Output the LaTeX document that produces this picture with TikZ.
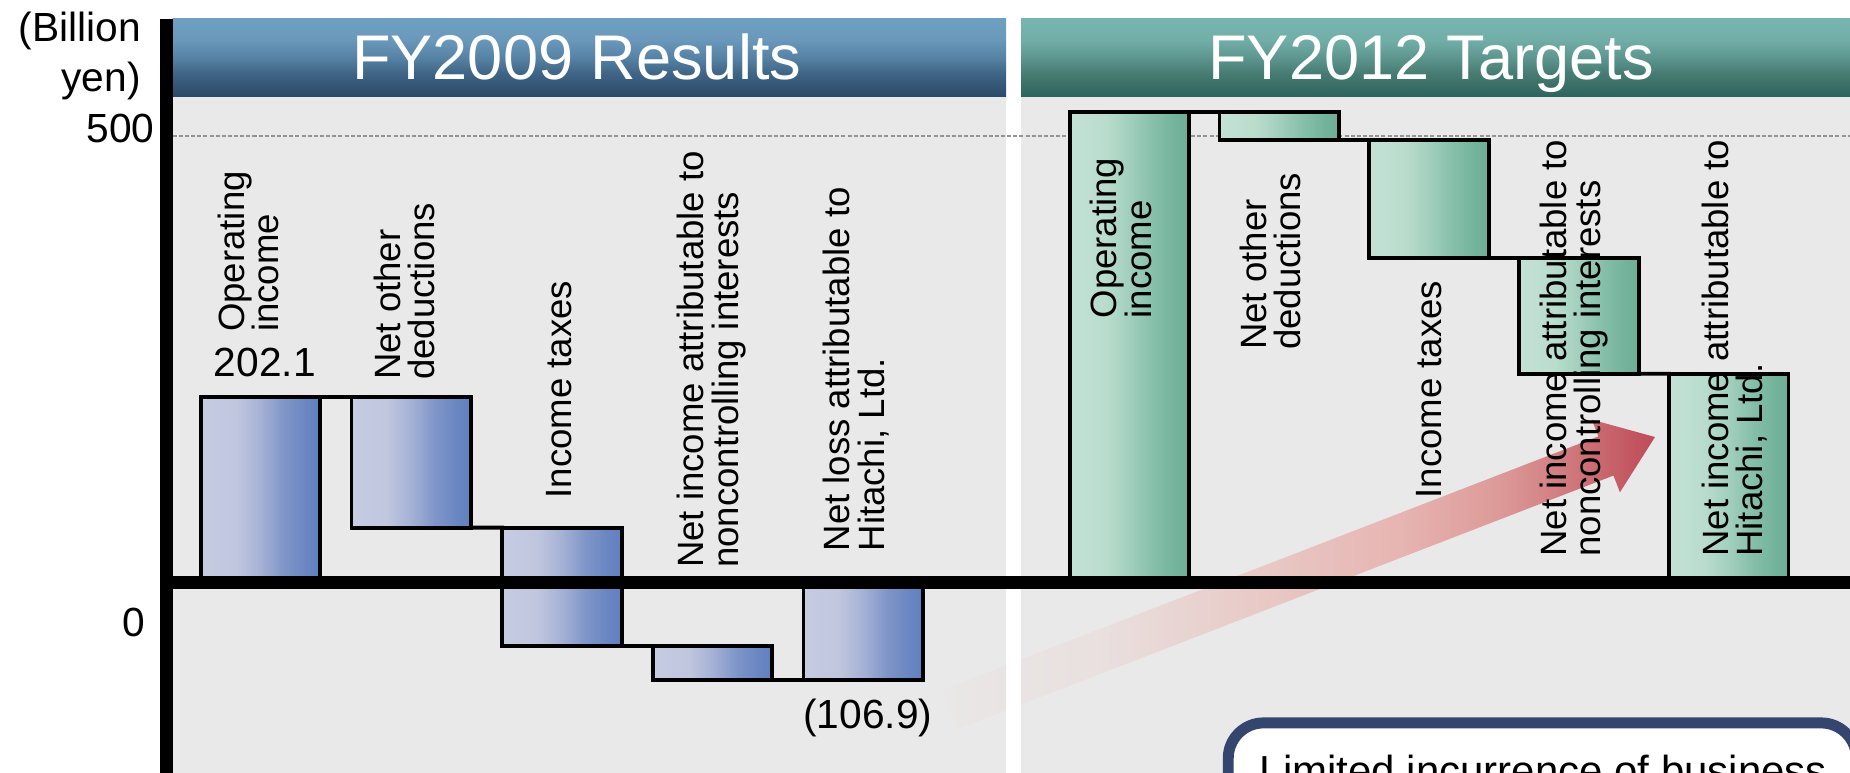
\documentclass[tikz,border=0pt]{standalone}
\usepackage{fontspec}
\setmainfont{Liberation Sans}
\usetikzlibrary{calc}

% panel and frame colours
\definecolor{panelgray}{HTML}{E9E9E9}
\definecolor{gridgray}{HTML}{959595}
\definecolor{notenavy}{HTML}{34466E}
% header gradients
\definecolor{hbT}{HTML}{6FA0C1}
\definecolor{hbM0}{HTML}{6A98BA}
\definecolor{hbM1}{HTML}{5784A6}
\definecolor{hbM2}{HTML}{3F6485}
\definecolor{hbB}{HTML}{2B4969}
\definecolor{hgT}{HTML}{79B5B0}
\definecolor{hgM0}{HTML}{72AEA8}
\definecolor{hgM1}{HTML}{5E9790}
\definecolor{hgM2}{HTML}{467B72}
\definecolor{hgB}{HTML}{2E645E}
% bar gradients
\definecolor{bbA}{HTML}{C6CCE1}
\definecolor{bbB}{HTML}{BFC6DE}
\definecolor{bbC}{HTML}{A5B1D5}
\definecolor{bbD}{HTML}{7E95C8}
\definecolor{bbE}{HTML}{6A86C2}
\definecolor{bbF}{HTML}{6080C0}
\definecolor{gbA}{HTML}{C3E2D5}
\definecolor{gbB}{HTML}{B9DCCD}
\definecolor{gbC}{HTML}{A2CFBD}
\definecolor{gbD}{HTML}{86BFA9}
\definecolor{gbE}{HTML}{74B39B}
\definecolor{gbF}{HTML}{6CAE95}
% growth arrow gradient
\definecolor{arA}{HTML}{E9E7E7}
\definecolor{arB}{HTML}{E9E0DF}
\definecolor{arC}{HTML}{E8D2CF}
\definecolor{arD}{HTML}{E7B5B2}
\definecolor{arE}{HTML}{DC9A98}
\definecolor{arF}{HTML}{D07A7E}
\definecolor{arG}{HTML}{C25560}
\definecolor{arH}{HTML}{BE4E59}

\pgfdeclareverticalshading{hdrblue}{100bp}{color(0bp)=(hbB); color(25bp)=(hbB); color(39.5bp)=(hbM2); color(50.5bp)=(hbM1); color(61.5bp)=(hbM0); color(75bp)=(hbT); color(100bp)=(hbT)}
\pgfdeclareverticalshading{hdrgreen}{100bp}{color(0bp)=(hgB); color(25bp)=(hgB); color(39.5bp)=(hgM2); color(50.5bp)=(hgM1); color(61.5bp)=(hgM0); color(75bp)=(hgT); color(100bp)=(hgT)}
\pgfdeclarehorizontalshading{bluebar}{100bp}{color(0bp)=(bbA); color(25bp)=(bbA); color(40bp)=(bbB); color(50bp)=(bbC); color(60bp)=(bbD); color(69bp)=(bbE); color(75bp)=(bbF); color(100bp)=(bbF)}
\pgfdeclarehorizontalshading{greenbar}{100bp}{color(0bp)=(gbA); color(25bp)=(gbA); color(40bp)=(gbB); color(50bp)=(gbC); color(60bp)=(gbD); color(69bp)=(gbE); color(75bp)=(gbF); color(100bp)=(gbF)}
\pgfdeclarehorizontalshading{redarrow}{100bp}{color(0bp)=(arA); color(25bp)=(arA); color(36bp)=(arB); color(43bp)=(arC); color(57bp)=(arD); color(64bp)=(arE); color(68.85bp)=(arF); color(73.5bp)=(arG); color(75bp)=(arH); color(100bp)=(arH)}

\newcommand{\lblfont}{\fontsize{31}{29}\selectfont}
\newcommand{\numfont}{\fontsize{34.5}{40}\selectfont}
\newcommand{\hdrfont}{\fontsize{53.5}{60}\selectfont}
\newcommand{\notefont}{\fontsize{35.6}{42}\selectfont}

\begin{document}
\begin{tikzpicture}[x=1pt,y=-1pt,
  hdrbox/.style={rectangle, inner sep=0pt, outer sep=0pt, anchor=north west, shade, minimum height=65.3pt},
  panel/.style={fill=panelgray},
  wbar/.style={rectangle, draw=black, line width=3.2pt, shade, inner sep=0pt, outer sep=0pt,
    minimum width=101.3pt, anchor=north west},
  barA/.style={wbar, shading=bluebar},
  barB/.style={wbar, shading=greenbar},
  link/.style={draw=black, line width=3.2pt, line cap=rect},
  axisline/.style={draw=black, line width=11pt},
  lbl/.style={rotate=90, anchor=north west, inner sep=0pt, align=left, font=\lblfont},
  num/.style={inner sep=0pt, font=\numfont},
  title/.style={inner sep=0pt, anchor=base, text=white, font=\hdrfont}]

\useasboundingbox (0,0) rectangle (1568,655);
\clip (0,0) rectangle (1568,655);
\fill[white] (0,0) rectangle (1568,655);

% plot panels
\fill[panel] (146.4,81.4) rectangle (852.7,660);
\fill[panel] (865.5,81.4) rectangle (1570,660);

% section headers
\node[hdrbox, shading=hdrblue, minimum width=706.3pt] (hdrA) at (146.4,16.1) {};
\node[hdrbox, shading=hdrgreen, minimum width=704.5pt] (hdrB) at (865.5,16.1) {};
\node[title] (ttlA) at (488.8,67.8) {FY2009 Results};
\node[title] (ttlB) at (1213,67.8) {FY2012 Targets};

% 500 gridline
\draw[gridgray, line width=1.4pt, dash pattern=on 3.4pt off 1.8pt] (146.4,115.3) -- (1570,115.3);

% growth arrow from the FY2009 loss towards the FY2012 target
\coordinate (arrTail) at (805.2,601.3);
\coordinate (arrTip) at (1402.7,370.4);
\coordinate (arrBase) at ($(arrTip)!44.6pt!(arrTail)$);
\begin{scope}
  \clip (146.4,81.4) rectangle (852.7,660) (865.5,81.4) rectangle (1570,660);
  \shade[shading=redarrow]
    ($(arrTail)!17.8pt!90:(arrTip)$) --
    ($(arrBase)!17.8pt!90:(arrTip)$) --
    ($(arrBase)!33pt!90:(arrTip)$) --
    (arrTip) --
    ($(arrBase)!33pt!-90:(arrTip)$) --
    ($(arrBase)!17.8pt!-90:(arrTip)$) --
    ($(arrTail)!17.8pt!-90:(arrTip)$) -- cycle;
\end{scope}

% FY2009 waterfall
\node[barA, minimum height=157.3pt] (bA1) at (170.2,336.4) {};
\node[barA, minimum height=110.8pt] (bA2) at (297.9,336.4) {};
\node[barA, minimum height=100pt]   (bA3) at (425.6,447.2) {};
\node[barA, minimum height=29pt]    (bA4) at (553.3,547.2) {};
\node[barA, minimum height=82.5pt]  (bA5) at (681.0,493.7) {};
\draw[link] (bA1.north east) -- (bA2.north west);
\draw[link] (bA2.south east) -- (bA3.north west);
\draw[link] (bA3.south east) -- (bA4.north west);
\draw[link] (bA4.south east) -- (bA5.south west);

% FY2012 waterfall
\node[barB, minimum height=398.9pt] (bB1) at (906.6,94.8) {};
\node[barB, minimum height=23.8pt]  (bB2) at (1033.6,94.8) {};
\node[barB, minimum height=99.9pt]  (bB3) at (1160.6,118.6) {};
\node[barB, minimum height=98.2pt]  (bB4) at (1287.6,218.5) {};
\node[barB, minimum height=177pt]   (bB5) at (1414.6,316.7) {};
\draw[link] (bB1.north east) -- (bB2.north west);
\draw[link] (bB2.south east) -- (bB3.north west);
\draw[link] (bB3.south east) -- (bB4.north west);
\draw[link] (bB4.south east) -- (bB5.north west);

% axes
\draw[axisline] (135.6,493.7) -- (1570,493.7);
\draw[axisline, line width=10.8pt] (141,16.1) -- (141,660);

% axis labels
\node[num, anchor=base east] (unitA) at (119.5,35.3) {(Billion};
\node[num, anchor=base east] (unitB) at (119.5,77.7) {yen)};
\node[num, anchor=base east] (tick500) at (131,121) {500};
\node[num, anchor=base east] (tick0) at (123.5,539.6) {0};

% FY2009 item labels
\node[lbl] (lA1) at (184.3,281.5) {Operating\\income};
\node[lbl] (lA2) at (316.7,322.2) {Net other\\deductions};
\node[lbl] (lA3) at (462.5,422.5) {Income taxes};
\node[lbl] (lA4) at (574,481.5) {Net income attributable to\\noncontrolling interests};
\node[lbl] (lA5) at (697.6,467.5) {Net loss attributable to\\Hitachi, Ltd.};
\node[num, anchor=base] (vA1) at (224.5,319.5) {202.1};
\node[num, anchor=base] (vA5) at (735.6,617.3) {(106.9)};

% FY2012 item labels
\node[lbl] (lB1) at (924,270) {Operating\\income};
\node[lbl] (lB2) at (1050.5,296.7) {Net other\\deductions};
\node[lbl] (lB3) at (1200,422.5) {Income taxes};
\node[lbl] (lB4) at (1305,472) {Net income attributable to\\noncontrolling interests};
\node[lbl] (lB5) at (1442,472) {Net income attributable to\\Hitachi, Ltd.};

% note box
\draw[notenavy, line width=9.3pt, fill=white, rounded corners=30pt] (1041,612.7) rectangle (1573.5,740);
\node[inner sep=0pt, anchor=base west, font=\notefont] (note) at (1067.5,665.5) {Limited incurrence of business};

\end{tikzpicture}
\end{document}
